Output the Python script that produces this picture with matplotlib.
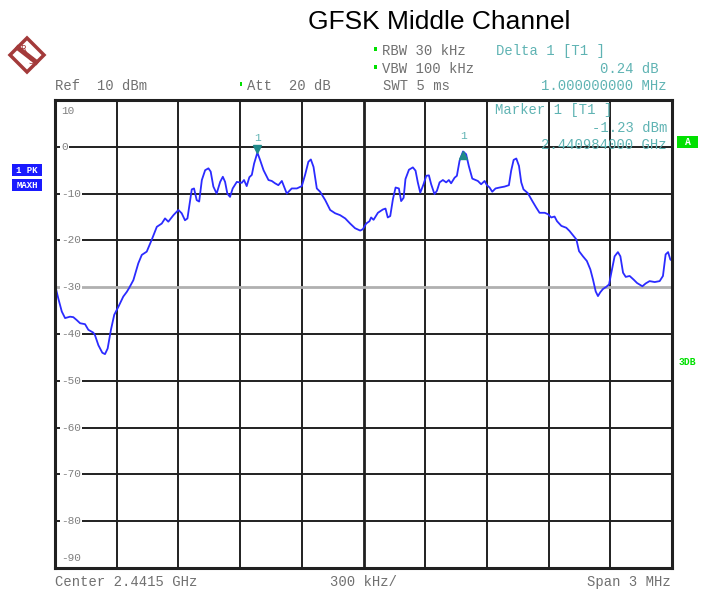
import matplotlib
matplotlib.use('Agg')
import matplotlib.pyplot as plt
from matplotlib.patches import Polygon, Rectangle
from matplotlib.transforms import offset_copy, blended_transform_factory

# Trace: frequency offset from 2.440 GHz [MHz] and level [dBm]
freq_mhz = [0.000, 0.016, 0.033, 0.049, 0.073, 0.089, 0.105, 0.122, 0.146, 0.162,
            0.186, 0.194, 0.211, 0.230, 0.243, 0.256, 0.272, 0.288, 0.308, 0.332,
            0.349, 0.360, 0.381, 0.405, 0.422, 0.446, 0.470, 0.495, 0.519, 0.535,
            0.551, 0.576, 0.600, 0.616, 0.632, 0.644, 0.657, 0.665, 0.676, 0.689,
            0.701, 0.714, 0.730, 0.746, 0.757, 0.770, 0.786, 0.803, 0.816, 0.827,
            0.838, 0.851, 0.864, 0.884, 0.908, 0.919, 0.932, 0.945, 0.957, 0.968,
            0.984, 0.997, 1.014, 1.038, 1.054, 1.070, 1.086, 1.103, 1.111, 1.127,
            1.151, 1.176, 1.200, 1.216, 1.232, 1.244, 1.257, 1.273, 1.289, 1.314,
            1.338, 1.362, 1.386, 1.411, 1.435, 1.459, 1.484, 1.497, 1.513, 1.529,
            1.537, 1.549, 1.570, 1.594, 1.607, 1.618, 1.630, 1.643, 1.656, 1.672,
            1.683, 1.695, 1.704, 1.721, 1.740, 1.753, 1.764, 1.776, 1.792, 1.805,
            1.818, 1.829, 1.845, 1.857, 1.870, 1.886, 1.902, 1.915, 1.926, 1.943,
            1.954, 1.967, 1.984, 1.999, 2.012, 2.029, 2.045, 2.056, 2.072, 2.089,
            2.100, 2.113, 2.126, 2.142, 2.162, 2.186, 2.207, 2.218, 2.230, 2.243,
            2.256, 2.267, 2.278, 2.299, 2.321, 2.340, 2.356, 2.381, 2.397, 2.413,
            2.429, 2.441, 2.462, 2.486, 2.502, 2.522, 2.535, 2.548, 2.567, 2.586,
            2.603, 2.616, 2.629, 2.640, 2.651, 2.664, 2.681, 2.694, 2.705, 2.721,
            2.737, 2.749, 2.762, 2.775, 2.794, 2.814, 2.830, 2.856, 2.872, 2.891,
            2.916, 2.940, 2.956, 2.969, 2.981, 2.992, 3.000]
level_dbm = [-29.5, -32.4, -35.2, -36.6, -36.3, -36.4, -37.0, -37.7, -37.9, -39.1,
             -39.7, -40.2, -42.4, -44.0, -44.3, -43.1, -39.1, -35.9, -34.2, -32.0,
             -31.0, -30.2, -28.5, -24.9, -23.1, -22.4, -19.9, -17.1, -16.4, -15.3,
             -16.0, -14.6, -13.5, -14.2, -15.7, -15.3, -11.4, -9.1, -8.9, -11.4,
             -11.7, -7.1, -5.0, -4.6, -5.3, -8.5, -10.0, -7.5, -6.4, -7.5,
             -10.0, -10.7, -8.9, -7.5, -7.7, -7.1, -8.4, -6.5, -6.0, -3.6,
             -1.23, -2.8, -5.0, -7.1, -7.3, -7.8, -8.2, -7.3, -8.2, -10.0,
             -8.9, -8.9, -8.4, -6.0, -3.2, -2.7, -4.3, -8.9, -9.6, -11.4,
             -13.5, -14.2, -14.6, -15.3, -16.4, -17.4, -17.9, -17.6, -16.4, -15.9,
             -15.1, -15.6, -14.1, -13.4, -13.2, -15.1, -14.8, -11.2, -8.7, -8.9,
             -11.6, -10.9, -6.9, -4.9, -4.4, -5.1, -7.6, -9.8, -8.0, -6.2,
             -6.1, -8.0, -10.1, -9.4, -7.6, -7.1, -7.6, -7.1, -7.8, -6.6,
             -6.2, -3.0, -0.99, -1.6, -4.1, -6.8, -7.1, -7.3, -8.0, -7.3,
             -8.2, -8.7, -9.6, -8.9, -8.7, -8.5, -8.2, -5.1, -2.8, -2.5,
             -4.1, -7.6, -9.1, -9.9, -11.6, -13.0, -14.1, -14.1, -14.4, -15.1,
             -14.9, -15.9, -16.9, -17.3, -18.0, -19.1, -19.8, -22.3, -23.4, -24.4,
             -26.2, -28.4, -30.9, -31.9, -31.1, -30.4, -29.9, -29.4, -26.9, -23.4,
             -22.5, -23.4, -26.9, -27.8, -27.6, -28.4, -29.1, -29.8, -29.2, -28.7,
             -28.9, -28.7, -27.6, -23.0, -22.5, -24.1, -24.3]

marker_f, marker_lvl = 0.984, -1.23          # Marker 1 [T1]
delta_df, delta_dlvl = 1.0, 0.24             # Delta 1 [T1]
ref_level = 10
db_per_div = 10
n_div = 10
span_mhz = 3.0
display_line = -30
y_labels = ['10', '0', '-10', '-20', '-30', '-40', '-50', '-60', '-70', '-80', '-90']

W, H = 701, 589
fig = plt.figure(figsize=(W / 100, H / 100), dpi=100)
fig.patch.set_facecolor('white')


def fx(x):
    return x / W


def fy(y):
    return 1 - y / H


mono = 'Liberation Mono'
gray_txt = '#707070'
teal = '#5fb3b3'
green = '#00e000'

ax = fig.add_axes([fx(55), fy(568), (672 - 55) / W, (568 - 100) / H])
ax.set_xlim(0, span_mhz)
ax.set_ylim(ref_level - n_div * db_per_div, ref_level)
ax.set_xticks([])
ax.set_yticks([])
for s in ax.spines.values():
    s.set_linewidth(2.2)
    s.set_color('#202020')
    s.set_zorder(5)

# graticule
step_f = span_mhz / n_div
for i in range(1, n_div):
    ax.axvline(i * step_f, color='#202020', lw=2.0 if i == n_div // 2 else 1.4, zorder=1)
for i in range(1, n_div):
    lvl = ref_level - i * db_per_div
    if lvl == display_line:
        ax.axhline(lvl, color='#b0b0b0', lw=2.0, zorder=1)
    else:
        ax.axhline(lvl, color='#202020', lw=1.4, zorder=1)

# level labels inside the grid
lab_tr = offset_copy(blended_transform_factory(ax.transAxes, ax.transData), fig, x=6, y=0, units='dots')
for i, lab in enumerate(y_labels):
    lvl = ref_level - i * db_per_div
    va = 'center'
    dy = 0
    if i == 0:
        va, dy = 'top', -6
    elif i == n_div:
        va, dy = 'bottom', 5
    tr = offset_copy(lab_tr, fig, x=0, y=dy, units='dots')
    ax.text(0, lvl, lab, transform=tr, family=mono, fontsize=8, color='#808080',
            ha='left', va=va, zorder=3,
            bbox=dict(boxstyle='square,pad=0.1', fc='white', ec='none'))

# trace
ax.plot(freq_mhz, level_dbm, color='#2b2bff', lw=1.3, zorder=4)

# markers
down_tr = offset_copy(ax.transData, fig, x=0, y=4, units='dots')
up_tr = offset_copy(ax.transData, fig, x=0, y=-4, units='dots')
ax.plot([marker_f], [marker_lvl], marker='v', ms=6, color='#1f8a8a', transform=down_tr, zorder=6)
ax.plot([marker_f + delta_df], [marker_lvl + delta_dlvl], marker='^', ms=6, color='#1f8a8a',
        transform=up_tr, zorder=6)
lbl_tr = offset_copy(ax.transData, fig, x=0, y=10, units='dots')
ax.text(marker_f, marker_lvl, '1', transform=lbl_tr, family=mono, fontsize=8, color=teal,
        ha='center', va='bottom', zorder=6)
ax.text(marker_f + delta_df, marker_lvl + delta_dlvl, '1', transform=lbl_tr, family=mono,
        fontsize=8, color=teal, ha='center', va='bottom', zorder=6)

# marker readouts
ax.text(fx(495), fy(110), 'Marker 1 [T1 ]', transform=fig.transFigure, family=mono,
        fontsize=10, color=teal, ha='left', va='center', zorder=7)
ax.text(fx(667), fy(128), f'{marker_lvl:.2f} dBm', transform=fig.transFigure, family=mono,
        fontsize=10, color=teal, ha='right', va='center', zorder=7)
ax.text(fx(667), fy(145), f'{2.440 + marker_f / 1000:.9f} GHz', transform=fig.transFigure,
        family=mono, fontsize=10, color=teal, ha='right', va='center', zorder=7)

# header
fig.text(fx(439), fy(22), 'GFSK Middle Channel', family='Liberation Sans', fontsize=19,
         ha='center', va='center', color='black')
fig.text(fx(55), fy(86), 'Ref  10 dBm', family=mono, fontsize=10, color=gray_txt, va='center')
fig.text(fx(247), fy(86), 'Att  20 dB', family=mono, fontsize=10, color=gray_txt, va='center')
fig.text(fx(382), fy(51), 'RBW 30 kHz', family=mono, fontsize=10, color=gray_txt, va='center')
fig.text(fx(382), fy(69), 'VBW 100 kHz', family=mono, fontsize=10, color=gray_txt, va='center')
fig.text(fx(383), fy(86), 'SWT 5 ms', family=mono, fontsize=10, color=gray_txt, va='center')
for x, y in [(241, 84), (375, 49), (375, 67)]:
    fig.patches.append(Rectangle((fx(x - 1.5), fy(y + 1.5)), 3 / W, 3 / H,
                                 transform=fig.transFigure, fc=green, ec='none'))
fig.text(fx(496), fy(51), 'Delta 1 [T1 ]', family=mono, fontsize=10, color=teal, va='center')
fig.text(fx(659), fy(69), f'{delta_dlvl:.2f} dB', family=mono, fontsize=10, color=teal,
         ha='right', va='center')
fig.text(fx(667), fy(86), f'{delta_df:.9f} MHz', family=mono, fontsize=10, color=teal,
         ha='right', va='center')

# side annotations
fig.patches.append(Rectangle((fx(677), fy(148)), 21 / W, 12 / H, transform=fig.transFigure,
                             fc=green, ec='none'))
fig.text(fx(687.5), fy(142), 'A', family=mono, fontsize=7, color='white', ha='center',
         va='center', weight='bold')
fig.text(fx(687), fy(362), '3DB', family=mono, fontsize=7, color=green, ha='center',
         va='center', weight='bold')
for y, s in [(170, '1 PK'), (185, 'MAXH')]:
    fig.patches.append(Rectangle((fx(12), fy(y + 6)), 30 / W, 12 / H, transform=fig.transFigure,
                                 fc='#1a1aff', ec='none'))
    fig.text(fx(27), fy(y), s, family=mono, fontsize=6.5, color='white', ha='center',
             va='center', weight='bold')

# footer
fig.text(fx(55), fy(582), 'Center 2.4415 GHz', family=mono, fontsize=10, color=gray_txt, va='center')
fig.text(fx(364), fy(582), '300 kHz/', family=mono, fontsize=10, color=gray_txt, ha='center',
         va='center')
fig.text(fx(671), fy(582), 'Span 3 MHz', family=mono, fontsize=10, color=gray_txt, ha='right',
         va='center')

# logo
cx, cy, r = 27, 55, 17
logo_red = '#a33a3a'
fig.patches.append(Polygon([(fx(cx), fy(cy - r)), (fx(cx + r), fy(cy)), (fx(cx), fy(cy + r)),
                            (fx(cx - r), fy(cy))], closed=True, transform=fig.transFigure,
                           fc='white', ec=logo_red, lw=2.5))
fig.lines.append(plt.Line2D([fx(cx - 9), fx(cx + 9)], [fy(cy - 7), fy(cy + 7)],
                            transform=fig.transFigure, color=logo_red, lw=3.5))
fig.text(fx(cx - 4), fy(cy - 6), 'R', fontsize=6, color=logo_red, ha='center', va='center')
fig.text(fx(cx + 4), fy(cy + 7), 'S', fontsize=6, color=logo_red, ha='center', va='center')

fig.savefig('out.png', dpi=100)
